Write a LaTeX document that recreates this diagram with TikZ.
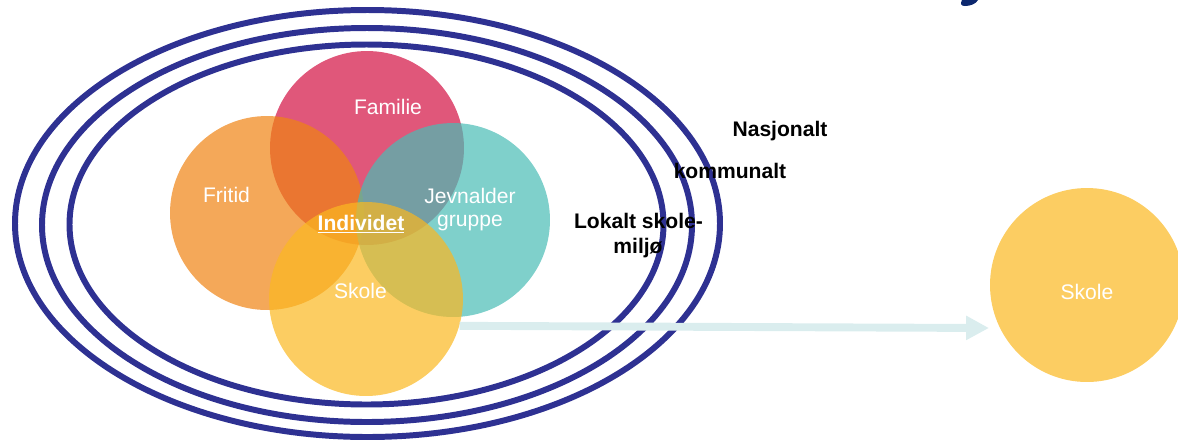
\documentclass[tikz,border=0pt]{standalone}
\usepackage{fontspec}
\setmainfont{Liberation Sans}
\usetikzlibrary{arrows.meta}
\definecolor{ringblue}{RGB}{46,49,146}
\definecolor{famcol}{RGB}{211,15,66}
\definecolor{fricol}{RGB}{239,131,19}
\definecolor{jevcol}{RGB}{72,188,181}
\definecolor{skocol}{RGB}{251,184,32}
\definecolor{pilcol}{RGB}{218,237,238}
\definecolor{titcol}{RGB}{12,40,110}

\begin{document}
\begin{tikzpicture}[x=0.02cm,y=-0.02cm]
\tikzstyle{every node}+=[inner sep=0pt]
\tikzstyle{sirkel}=[circle,minimum size=3.88cm,fill opacity=0.7]
\tikzstyle{hvit}=[text=white,font=\fontsize{12}{14}\selectfont,anchor=base]
\tikzstyle{svart}=[text=black,font=\fontsize{12}{14}\selectfont\bfseries,anchor=base]
\tikzstyle{bane}=[ringblue,line width=3.4pt]
\tikzstyle{pil}=[pilcol,line width=4.5pt,-{Triangle[length=13pt,width=13pt]}]
\useasboundingbox (0,0) rectangle (1178,441);
\fill [titcol] (962,0) -- (978,0) .. controls (976,4) and (970,6) .. (965,6) .. controls (961,6) and (960,4) .. (962,0) -- cycle;
\draw [bane] (367.5,223.5) ellipse [x radius=352.5, y radius=213.5];
\draw [bane] (367,225) ellipse [x radius=325, y radius=197];
\draw [bane] (366.5,224.5) ellipse [x radius=297, y radius=180];
\node [sirkel,fill=famcol] (fam) at (367,148) {};
\node [sirkel,fill=fricol] (fri) at (267,213) {};
\node [sirkel,fill=jevcol] (jev) at (453,220) {};
\node [sirkel,fill=skocol] (sko) at (366,299) {};
\node [sirkel,fill=skocol] (skoR) at (1087,285) {};
\node [hvit] (famtxt) at (388,114) {Familie};
\node [hvit] (fritxt) at (226.5,202) {Fritid};
\node [hvit] (jevtxt) at (470,203.5) {Jevnalder};
\node [hvit] (grutxt) at (470,226) {gruppe};
\node [hvit,font=\fontsize{12}{14}\selectfont\bfseries] (indtxt) at (361,230) {\underline{Individet}};
\node [hvit] (skotxt) at (360.5,298) {Skole};
\node [hvit] (skoRtxt) at (1087,299) {Skole};
\node [svart] (nasj) at (780,136) {Nasjonalt};
\node [svart] (komm) at (730,178) {kommunalt};
\node [svart] (lok1) at (638.5,228) {Lokalt skole-};
\node [svart] (lok2) at (638,253) {miljø};
\coordinate (spiss) at (989,328);
\draw [pil] (sko.-16) -- (spiss);
\end{tikzpicture}
\end{document}
